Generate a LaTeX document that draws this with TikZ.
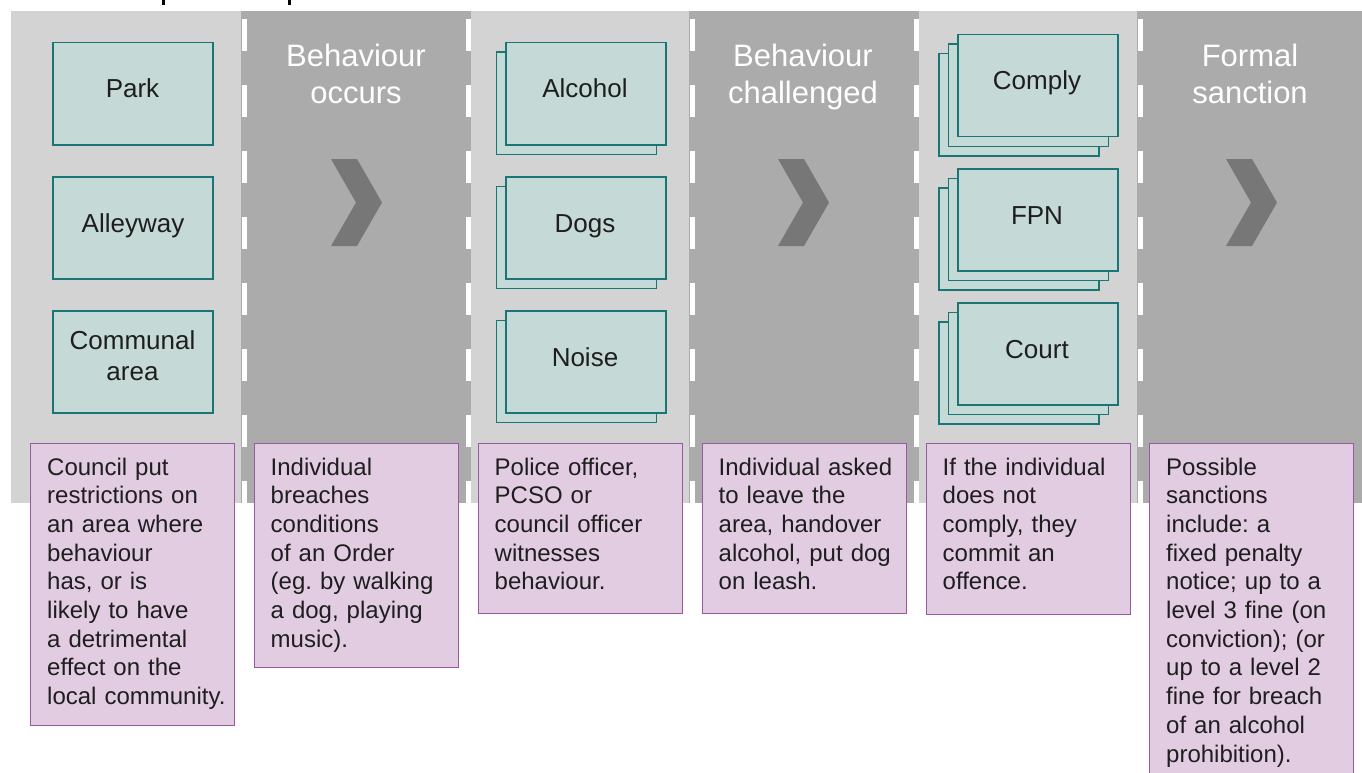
\documentclass[tikz,border=0pt]{standalone}
\usepackage{fontspec}
\setmainfont{Liberation Sans}
\frenchspacing
\definecolor{lightcol}{HTML}{D3D3D3}
\definecolor{darkcol}{HTML}{ABABAB}
\definecolor{tealfill}{HTML}{C5D9D6}
\definecolor{tealline}{HTML}{1A7675}
\definecolor{purpfill}{HTML}{E2CCE2}
\definecolor{purpline}{HTML}{9A58A0}
\definecolor{chevcol}{HTML}{777777}
\definecolor{txtcol}{HTML}{1E1E1E}
\begin{document}
\begin{tikzpicture}[x=1pt,y=-1pt,
  lightband/.style={fill=lightcol},
  darkband/.style={fill=darkcol},
  edgedash/.style={draw=white, line width=5pt, dash pattern=on 32pt off 34pt},
  chevron/.style={fill=chevcol},
  tbox/.style={draw=tealline, line width=1.5pt, fill=tealfill, minimum width=160pt, minimum height=102pt, inner sep=0pt, anchor=north west},
  tlabel/.style={font=\fontsize{26}{31}\selectfont, text=txtcol, anchor=base, inner sep=0pt},
  tlabeltwo/.style={font=\fontsize{26}{31}\selectfont, text=txtcol, align=center, inner sep=0pt},
  header/.style={font=\fontsize{31}{37}\selectfont, text=white, text width=220pt, align=center, anchor=base, inner sep=0pt},
  pbox/.style={draw=purpline, line width=1.4pt, fill=purpfill, minimum width=204pt, inner sep=0pt, anchor=north west},
  ptext/.style={font=\fontsize{24}{28.7}\selectfont, text=txtcol, text width=190pt, align=left, anchor=base west, inner sep=0pt}
]
\useasboundingbox (0,0) rectangle (1362,773);
\clip (0,0) rectangle (1362,773);

% title descender fragments
\fill[black] (162,0) rectangle (165,5.5);
\fill[black] (287.5,0) rectangle (290.5,5.5);

% column bands
\fill[lightband] (11,11) rectangle (241,503);
\fill[darkband] (241,11) rectangle (471,503);
\fill[lightband] (471,11) rectangle (689,503);
\fill[darkband] (689,11) rectangle (919,503);
\fill[lightband] (919,11) rectangle (1137,503);
\fill[darkband] (1137,11) rectangle (1370,503);

% dashed white edges of dark columns
\draw[edgedash] (244,19) -- (244,503);
\draw[edgedash] (468,19) -- (468,503);
\draw[edgedash] (692,19) -- (692,503);
\draw[edgedash] (916,19) -- (916,503);
\draw[edgedash] (1140,19) -- (1140,503);

% headers
\node[header] (h1) at (356,66.5) {Behaviour\\occurs};
\node[header] (h2) at (803,67) {Behaviour\\challenged};
\node[header] (h3) at (1250,67) {Formal\\sanction};

% chevrons
\fill[chevron] (331,159) -- (357,159) -- (382,202.5) -- (357,246) -- (331,246) -- (356,202.5) -- cycle;
\fill[chevron] (778,159) -- (804,159) -- (829,202.5) -- (804,246) -- (778,246) -- (803,202.5) -- cycle;
\fill[chevron] (1226,159) -- (1252,159) -- (1277,202.5) -- (1252,246) -- (1226,246) -- (1251,202.5) -- cycle;

% column 1 boxes
\node[tbox] (park) at (52,42) {};
\node[tbox] (alley) at (52,176) {};
\node[tbox] (communal) at (52,310) {};
\node[tlabel] (parkt) at (132.5,98) {Park};
\node[tlabel] (alleyt) at (133,232) {Alleyway};
\node[tlabeltwo] (communalt) at (132.5,356) {Communal\\area};

% column 3 boxes (two layers)
\node[tbox] (alcb) at (495.5,51.5) {};
\node[tbox] (alc) at (505,42) {};
\node[tbox] (dogb) at (495.5,185.5) {};
\node[tbox] (dog) at (505,176) {};
\node[tbox] (noiseb) at (495.5,319.5) {};
\node[tbox] (noise) at (505,310) {};
\node[tlabel] (alct) at (585,98) {Alcohol};
\node[tlabel] (dogt) at (585,232) {Dogs};
\node[tlabel] (noiset) at (585,366) {Noise};

% column 5 boxes (three layers)
\node[tbox] (compc) at (938,53) {};
\node[tbox] (compb) at (947.5,43.5) {};
\node[tbox] (comp) at (957,34) {};
\node[tbox] (fpnc) at (938,187) {};
\node[tbox] (fpnb) at (947.5,177.5) {};
\node[tbox] (fpn) at (957,168) {};
\node[tbox] (courtc) at (938,321) {};
\node[tbox] (courtb) at (947.5,311.5) {};
\node[tbox] (court) at (957,302) {};
\node[tlabel] (compt) at (1037,90) {Comply};
\node[tlabel] (fpnt) at (1037,224) {FPN};
\node[tlabel] (courtt) at (1037,358) {Court};

% description boxes
\node[pbox, minimum height=282pt] (d1) at (30,443) {};
\node[pbox, minimum height=224pt] (d2) at (254,443) {};
\node[pbox, minimum height=170pt] (d3) at (478,443) {};
\node[pbox, minimum height=170pt] (d4) at (702,443) {};
\node[pbox, minimum height=171pt] (d5) at (926,443) {};
\node[pbox, minimum height=345pt] (d6) at (1149,443) {};

\node[ptext] (t1) at (47,475) {Council put\\restrictions on\\an area where\\behaviour\\has, or is\\likely to have\\a detrimental\\effect on the\\local community.};
\node[ptext] (t2) at (270.5,475) {Individual\\breaches\\conditions\\of an Order\\(eg. by walking\\a dog, playing\\music).};
\node[ptext] (t3) at (494.5,475) {Police officer,\\PCSO or\\council officer\\witnesses\\behaviour.};
\node[ptext] (t4) at (718.5,475) {Individual asked\\to leave the\\area, handover\\alcohol, put dog\\on leash.};
\node[ptext] (t5) at (942.5,475) {If the individual\\does not\\comply, they\\commit an\\offence.};
\node[ptext] (t6) at (1166,475) {Possible\\sanctions\\include: a\\fixed penalty\\notice; up to a\\level 3 fine (on\\conviction); (or\\up to a level 2\\fine for breach\\of an alcohol\\prohibition).};
\end{tikzpicture}
\end{document}
